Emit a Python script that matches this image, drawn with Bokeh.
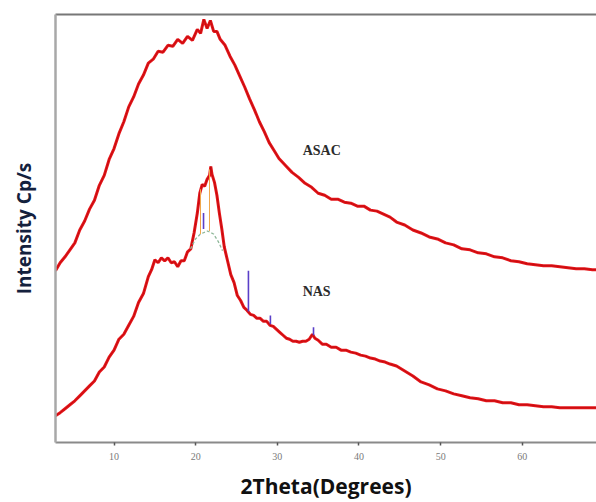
from bokeh.plotting import figure
from bokeh.models import Range1d, LinearAxis, SingleIntervalTicker, FixedTicker
from bokeh.core.properties import value
from bokeh.embed import file_html
from bokeh.resources import INLINE

# ---- data (2Theta in degrees, intensity in arbitrary counts) ----
asac_x = [2.83, 3.4, 4.0, 4.6, 5.2, 5.8, 6.4, 7.0, 7.6, 8.2, 8.8, 9.4, 10.0, 10.6, 11.2, 11.8,
          12.4, 13.0, 13.6, 14.2, 14.8, 15.4, 16.0, 16.6, 17.2, 17.8, 18.4, 19.0, 19.6, 20.2,
          20.6, 21.0, 21.4, 21.8, 22.2, 22.6, 23.0, 23.6, 24.2, 24.8, 25.4, 26.0, 26.6, 27.2,
          27.8, 28.4, 29.0, 29.6, 30.2, 31.0, 31.8, 32.6, 33.4, 34.2, 35.0, 35.8, 36.6, 37.4,
          38.2, 39.0, 39.8, 40.6, 41.4, 42.2, 43.0, 43.8, 44.6, 45.6, 46.6, 47.6, 48.6, 49.6,
          50.6, 51.6, 52.6, 53.6, 54.6, 55.6, 56.6, 57.6, 58.6, 59.6, 60.6, 61.6, 62.6, 63.6,
          64.6, 65.6, 66.6, 67.6, 68.6, 69.09]
asac_y = [173, 181, 187, 194, 201, 214, 223, 235, 244, 259, 269, 285, 296, 311, 323, 338,
          348, 361, 370, 382, 386, 394, 393, 400, 399, 406, 402, 409, 405, 416,
          412, 426, 417, 425, 414, 414, 406, 400, 389, 380, 369, 358, 346, 335,
          323, 313, 302, 294, 286, 279, 272, 267, 261, 257, 251, 249, 245, 245,
          242, 241, 238, 238, 234, 233, 230, 227, 222, 219, 214, 211, 207, 205,
          201, 199, 195, 194, 191, 190, 187, 186, 183, 182, 180, 179, 178, 178,
          177, 176, 175, 175, 174, 174]

nas_x = [2.83, 3.4, 4.0, 4.6, 5.2, 5.8, 6.4, 7.0, 7.6, 8.2, 8.8, 9.4, 10.0, 10.6, 11.2, 11.8,
         12.4, 13.0, 13.6, 14.2, 14.6, 15.0, 15.4, 15.8, 16.2, 16.6, 17.0, 17.4, 17.8, 18.2,
         18.6, 19.0, 19.4, 19.8, 20.2, 20.5, 20.8, 21.1, 21.4, 21.7, 21.85, 22.0, 22.3, 22.6,
         22.9, 23.2, 23.5, 23.9, 24.3, 24.7, 25.1, 25.5, 25.9, 26.3, 26.7, 27.1, 27.5, 27.9,
         28.3, 28.7, 29.1, 29.5, 29.9, 30.3, 30.7, 31.1, 31.5, 31.9, 32.3, 32.7, 33.1, 33.5,
         33.9, 34.3, 34.6, 35.0, 35.5, 36.0, 36.6, 37.2, 37.8, 38.4, 39.0, 39.6, 40.2, 40.8,
         41.4, 42.0, 42.6, 43.2, 43.8, 44.6, 45.6, 46.6, 47.6, 48.6, 49.6, 50.6, 51.6, 52.6,
         53.6, 54.6, 55.6, 56.6, 57.6, 58.6, 59.6, 60.6, 61.6, 62.6, 63.6, 64.6, 65.6, 66.6,
         67.6, 68.6, 69.09]
nas_y = [27, 30, 34, 38, 42, 47, 52, 57, 62, 71, 76, 86, 93, 104, 109, 118,
         127, 141, 150, 167, 174, 184, 181, 186, 183, 186, 181, 182, 177, 183,
         183, 192, 195, 211, 231, 251, 260, 258, 265, 269, 278, 270, 262, 249,
         231, 215, 197, 183, 169, 161, 148, 143, 136, 133, 129, 128, 125, 125,
         122, 122, 118, 117, 114, 111, 108, 105, 104, 102, 102, 101, 102, 102,
         104, 109, 105, 103, 99, 99, 96, 96, 93, 93, 91, 90, 88, 87,
         85, 84, 82, 81, 79, 77, 72, 67, 61, 58, 54, 52, 49, 47,
         45, 44, 42, 42, 40, 40, 38, 38, 37, 36, 36, 35, 35, 35,
         35, 35, 35]

# fitted background under the main NAS reflection (dashed)
bg_x = [19.37, 19.98, 20.59, 21.45, 22.18, 22.79, 23.29]
bg_y = [195, 205, 210, 213, 210, 202, 193]

# sharp crystalline reflections of NAS (blue sticks): position, base, top
peak_x = [20.96, 26.46, 29.15, 34.43]
peak_base = [215, 132, 119, 108]
peak_top = [231, 173, 128, 116]

# peak-fit markers (orange)
fit_x = [20.59, 21.69]
fit_base = [210, 213]
fit_top = [255, 275]

label_x = [33.1, 33.1]
label_y = [294, 152]
label_text = ["ASAC", "NAS"]

x_ticks_interval = 10

# ---- figure ----
p = figure(width=596, height=502, output_backend="svg", toolbar_location=None,
           x_range=Range1d(2.83, 69.09), y_range=Range1d(0, 431),
           min_border_left=55, min_border_right=0, min_border_top=14, min_border_bottom=57)
p.outline_line_color = None
p.xgrid.visible = False
p.ygrid.visible = False
p.background_fill_color = "white"
p.border_fill_color = "white"

# curves
p.line(asac_x, asac_y, line_color="#e5161b", line_width=3)
p.line(asac_x, asac_y, line_color="#a30000", line_width=0.8, line_alpha=0.6)
p.line(nas_x, nas_y, line_color="#e5161b", line_width=3)
p.line(nas_x, nas_y, line_color="#a30000", line_width=0.8, line_alpha=0.6)

p.line(bg_x, bg_y, line_color="#8fb89a", line_width=1.3, line_dash="3 2")
p.segment(x0=fit_x, y0=fit_base, x1=fit_x, y1=fit_top, line_color="#f0a64a", line_width=1)
p.segment(x0=peak_x, y0=peak_base, x1=peak_x, y1=peak_top, line_color="#5a3fc8", line_width=1.6)

p.text(x=label_x, y=label_y, text=label_text, text_font=value("Liberation Serif"),
       text_font_style="bold", text_font_size="14px", text_color="#2b2b2b",
       text_align="left", text_baseline="middle")

# x axis
xa = p.xaxis[0]
xa.ticker = SingleIntervalTicker(interval=x_ticks_interval)
xa.minor_tick_line_color = None
xa.major_tick_in = 0
xa.major_tick_out = 3
xa.major_tick_line_color = "#555555"
xa.major_tick_line_width = 1.5
xa.axis_line_color = "#8a8a8a"
xa.axis_line_width = 2
xa.major_label_text_font = "Liberation Serif"
xa.major_label_text_font_size = "10px"
xa.major_label_text_color = "#7a7a7a"
xa.major_label_standoff = 6
xa.axis_label = "2Theta(Degrees)"
xa.axis_label_text_font = "Open Sans"
xa.axis_label_text_font_style = "bold"
xa.axis_label_text_font_size = "21px"
xa.axis_label_text_color = "#111111"
xa.axis_label_standoff = 9

# y axis
ya = p.yaxis[0]
ya.ticker = FixedTicker(ticks=[])
ya.minor_tick_line_color = None
ya.major_tick_line_color = None
ya.major_label_text_font_size = "0px"
ya.major_label_standoff = 0
ya.axis_line_color = "#a8a8a8"
ya.axis_line_width = 2.5
ya.axis_label = "Intensity Cp/s"
ya.axis_label_text_font = "Open Sans"
ya.axis_label_text_font_style = "bold"
ya.axis_label_text_font_size = "19px"
ya.axis_label_text_color = "#14213d"
ya.axis_label_standoff = 19

# top frame line
top = LinearAxis(ticker=FixedTicker(ticks=[]), major_label_text_font_size="0px",
                 major_tick_line_color=None, minor_tick_line_color=None,
                 axis_line_color="#777777", axis_line_width=2)
p.add_layout(top, "above")

open("out.html", "w").write(file_html(p, INLINE))
